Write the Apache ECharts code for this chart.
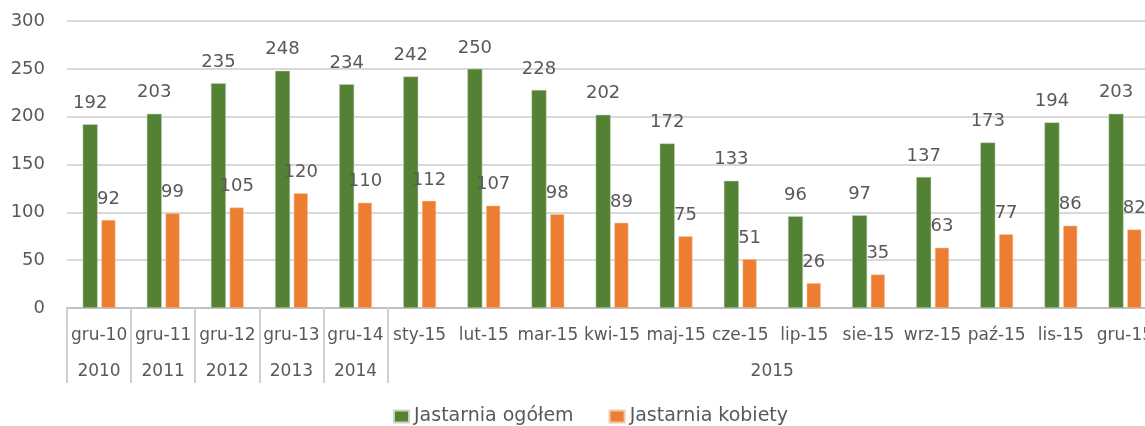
<!DOCTYPE html>
<html>
<head>
<meta charset="utf-8">
<script src="https://cdn.jsdelivr.net/npm/echarts@6/dist/echarts.min.js"></script>
<style>
  html, body { margin: 0; padding: 0; background: #fff; }
  #chart { width: 1145px; height: 426px; }
</style>
</head>
<body>
<div id="chart"></div>
<script>
const months = ['gru-10', 'gru-11', 'gru-12', 'gru-13', 'gru-14', 'sty-15', 'lut-15', 'mar-15', 'kwi-15',
  'maj-15', 'cze-15', 'lip-15', 'sie-15', 'wrz-15', 'paź-15', 'lis-15', 'gru-15'];
const years = ['2010', '2011', '2012', '2013', '2014', '2015', '2015', '2015', '2015',
  '2015', '2015', '2015', '2015', '2015', '2015', '2015', '2015'];
const ogolem = [192, 203, 235, 248, 234, 242, 250, 228, 202, 172, 133, 96, 97, 137, 173, 194, 203];
const kobiety = [92, 99, 105, 120, 110, 112, 107, 98, 89, 75, 51, 26, 35, 63, 77, 86, 82];
const yTicks = [0, 50, 100, 150, 200, 250, 300];

const font = 'DejaVu Sans';
const textColor = '#595959';

// label for the 12-month 2015 group sits between indices 10 and 11
const yearLabelAt = [0, 1, 2, 3, 4, 10];

const chart = echarts.init(document.getElementById('chart'));
chart.setOption({
  animation: false,
  textStyle: { fontFamily: font },
  grid: { left: 67, width: 1090, top: 21, height: 287, outerBoundsMode: 'none', containLabel: false },
  legend: {
    left: 388, top: 402,
    itemWidth: 15, itemHeight: 12, itemGap: 35,
    icon: 'rect',
    textStyle: { fontFamily: font, fontSize: 19, color: textColor },
    data: ['Jastarnia ogółem', 'Jastarnia kobiety']
  },
  xAxis: [
    {
      type: 'category',
      data: months,
      axisLine: { lineStyle: { color: '#bfbfbf', width: 2 } },
      axisTick: { show: true, length: 75, interval: (i) => i <= 5, lineStyle: { color: '#d0d0d0', width: 2 } },
      axisLabel: { interval: 0, margin: 19, fontSize: 17, color: textColor, fontFamily: font }
    },
    {
      type: 'category',
      position: 'bottom',
      data: years,
      axisLine: { show: false },
      axisTick: { show: false },
      axisLabel: {
        interval: (i) => yearLabelAt.includes(i),
        margin: 55, fontSize: 17, color: textColor, fontFamily: font,
        formatter: (v, i) => i === 10 ? '{s|' + v + '}' : v,
        rich: { s: { padding: [0, 0, 0, 64], fontSize: 17, color: textColor, fontFamily: font } }
      }
    }
  ],
  yAxis: {
    type: 'value',
    min: yTicks[0], max: yTicks[yTicks.length - 1], interval: 50,
    axisLine: { show: false },
    axisTick: { show: false },
    splitLine: { lineStyle: { color: '#d9d9d9', width: 2 } },
    axisLabel: { margin: 22, fontSize: 18, color: textColor, fontFamily: font }
  },
  series: [
    {
      name: 'Jastarnia ogółem',
      type: 'bar',
      data: ogolem,
      barWidth: 15,
      barGap: '25%',
      itemStyle: { color: '#548235', borderColor: '#c9d4c0', borderWidth: 0.5 },
      label: { show: true, position: 'top', distance: 12, fontSize: 18, color: textColor, fontFamily: font }
    },
    {
      name: 'Jastarnia kobiety',
      type: 'bar',
      data: kobiety,
      barWidth: 14,
      itemStyle: { color: '#ed7d31', borderColor: '#f3c8a9', borderWidth: 0.5 },
      label: { show: true, position: 'top', distance: 12, fontSize: 18, color: textColor, fontFamily: font }
    }
  ]
});
</script>
</body>
</html>
